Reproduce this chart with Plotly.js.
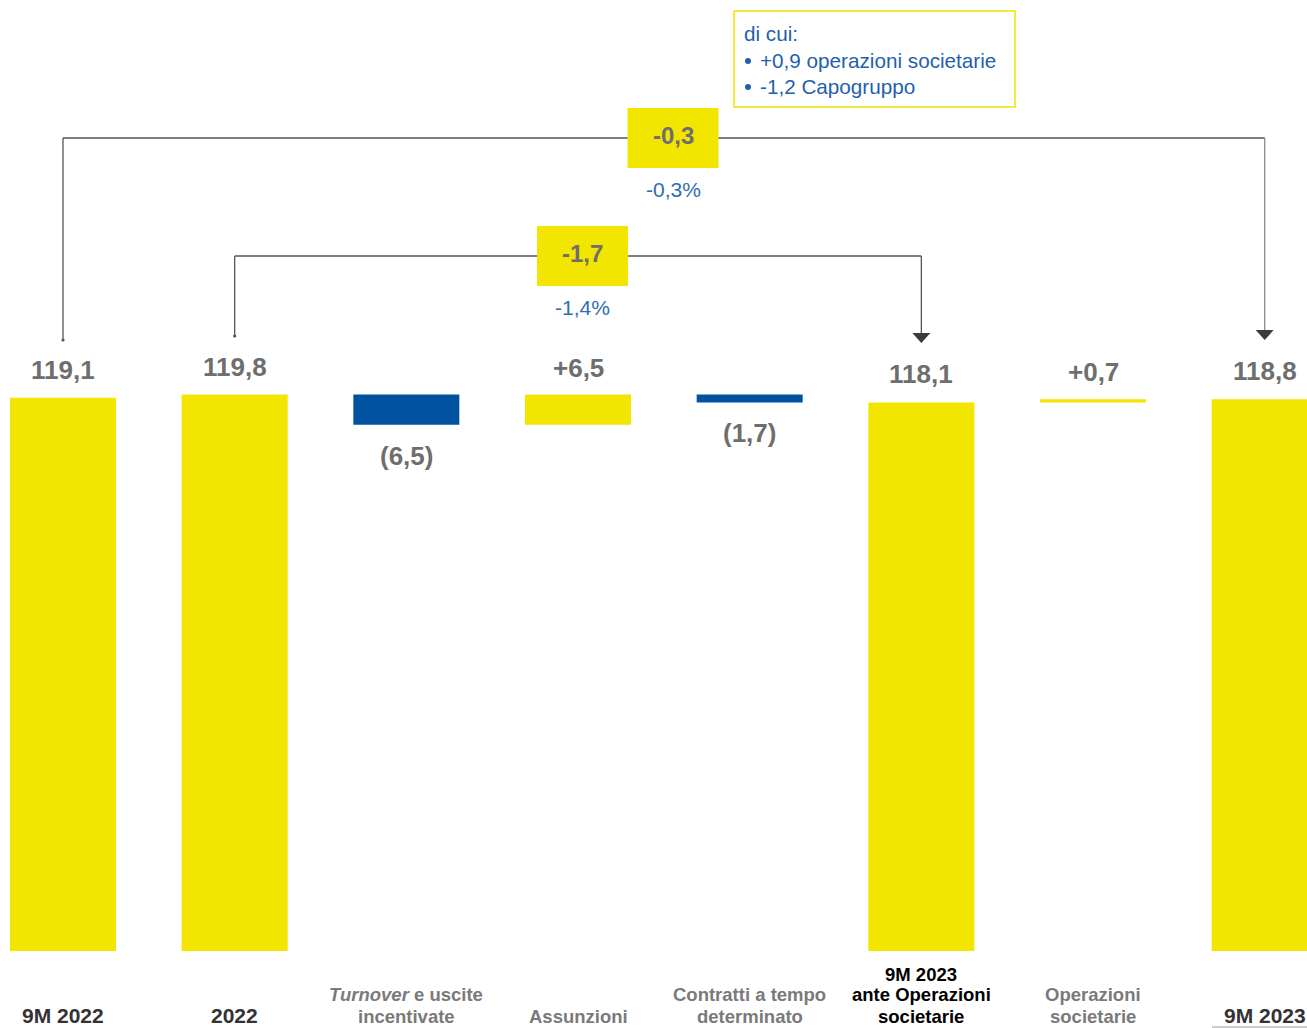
<!DOCTYPE html>
<html>
<head>
<meta charset="utf-8">
<script src="https://cdn.plot.ly/plotly-3.0.1.min.js"></script>
<style>
  html, body { margin: 0; padding: 0; background: #ffffff; }
  #chart { width: 1307px; height: 1028px; }
</style>
</head>
<body>
<div id="chart"></div>
<script>
// ---------------- DATA ----------------
const categories = [
  '9M 2022',
  '2022',
  '<i>Turnover</i> e uscite<br>incentivate',
  'Assunzioni',
  'Contratti a tempo<br>determinato',
  '9M 2023<br>ante Operazioni<br>societarie',
  'Operazioni<br>societarie',
  '9M 2023'
];
const measures = ['absolute', 'absolute', 'relative', 'relative', 'relative', 'total', 'relative', 'total'];
const values = [119.1, 119.8, -6.5, 6.5, -1.7, null, 0.7, null];

// comparison brackets (from bar index -> to bar index)
const compareFrom = [0, 1];
const compareTo = [7, 5];

// breakdown note
const breakdownTitle = 'di cui:';
const breakdownValues = [0.9, -1.2];
const breakdownLabels = ['operazioni societarie', 'Capogruppo'];

// ---------------- STYLE ----------------
const YELLOW = '#F2E500';
const BLUE = '#0052A0';
const GREY_TXT = '#6e6e6e';
const LINE = '#555555';
const PCT_BLUE = '#2f6db5';
const NOTE_BLUE = '#1f5fae';
const FONT = 'Liberation Sans, Arial, Helvetica, sans-serif';

const W = 1307, H = 1028;
const MB = 77;                 // bottom margin
const PH = H - MB;             // plot height in px
const PX_PER_UNIT = 4.645;     // vertical scale
const CAT_STEP = 171.67;       // px between category centres
const FIRST_CENTER = 63;       // px of first category centre
const xr0 = -FIRST_CENTER / CAT_STEP;
const xr1 = xr0 + W / CAT_STEP;

const py = p => (PH - p) / PH;             // pixel y -> paper y
const px = p => p / W;                     // pixel x -> paper x
const fmt = v => Math.abs(v).toFixed(1).replace('.', ',');
const fmtSigned = v => (v > 0 ? '+' : '-') + fmt(v);

// ---------------- WATERFALL COMPUTATION ----------------
const xs = [], ys = [], bases = [], colors = [], tops = [], bottoms = [], totals = [];
let running = 0;
measures.forEach((m, i) => {
  xs.push(i);
  if (m === 'absolute') {
    bases.push(0); ys.push(values[i]); running = values[i];
    colors.push(YELLOW);
  } else if (m === 'total') {
    bases.push(0); ys.push(running);
    colors.push(YELLOW);
  } else {
    bases.push(running); ys.push(values[i]);
    colors.push(values[i] < 0 ? BLUE : YELLOW);
    running += values[i];
  }
  totals.push(running);
  tops.push(Math.max(bases[i], bases[i] + ys[i]));
  bottoms.push(Math.min(bases[i], bases[i] + ys[i]));
});

const trace = {
  type: 'bar',
  x: xs,
  y: ys,
  base: bases,
  width: 106 / CAT_STEP,
  marker: { color: colors, line: { width: 0 } },
  hoverinfo: 'skip',
  showlegend: false
};

const annotations = [];
const shapes = [];

// value labels
measures.forEach((m, i) => {
  let text, y, shift;
  if (m === 'relative') {
    if (values[i] < 0) { text = '(' + fmt(values[i]) + ')'; y = bottoms[i]; shift = -31; }
    else { text = '+' + fmt(values[i]); y = tops[i]; shift = 27; }
  } else {
    text = fmt(ys[i]); y = tops[i]; shift = 28;
  }
  annotations.push({
    x: i, y: y, xref: 'x', yref: 'y', text: '<b>' + text + '</b>', showarrow: false,
    yanchor: 'middle', yshift: shift,
    font: { family: FONT, size: 26, color: GREY_TXT }
  });
});

// category labels (one annotation per line, bottom aligned)
const catColor = i => (i === 5 ? '#000000' : (measures[i] === 'relative' ? '#7a7a7a' : '#333333'));
categories.forEach((c, i) => {
  const lines = c.split('<br>');
  const n = lines.length;
  const big = (n === 1 && measures[i] !== 'relative');
  lines.forEach((ln, j) => {
    const cy = big ? 1015.5 : 1016 - 21 * (n - 1 - j);
    annotations.push({
      x: i, y: py(cy), xref: 'x', yref: 'paper', text: '<b>' + ln + '</b>',
      showarrow: false, yanchor: 'middle', align: 'center',
      font: { family: FONT, size: big ? 21 : 18.5, color: catColor(i) }
    });
  });
});
// underline under final label
shapes.push({ type: 'line', xref: 'paper', yref: 'paper', x0: px(1212), x1: 1, y0: py(1027), y1: py(1027),
  line: { color: '#9a9a9a', width: 1 } });

// comparison brackets
const levelPx = [138, 256];
const leftEndPx = [340, 336];
const tipPx = [340, 343];
const boxCenterPx = [673, 582.5];
const pctPx = [190, 307];
compareFrom.forEach((f, k) => {
  const t = compareTo[k];
  const yL = py(levelPx[k]);
  // left vertical
  shapes.push({ type: 'line', xref: 'x', yref: 'paper', x0: f, x1: f, y0: py(leftEndPx[k]), y1: yL,
    line: { color: LINE, width: 1.3 } });
  // left dot
  const dx = 1.6 / CAT_STEP;
  shapes.push({ type: 'circle', xref: 'x', yref: 'paper', x0: f - dx, x1: f + dx,
    y0: py(leftEndPx[k] + 1.6), y1: py(leftEndPx[k] - 1.6), fillcolor: LINE, line: { width: 0 } });
  // horizontal
  shapes.push({ type: 'line', xref: 'x', yref: 'paper', x0: f, x1: t, y0: yL, y1: yL,
    line: { color: LINE, width: 1.3 } });
  // right vertical
  shapes.push({ type: 'line', xref: 'x', yref: 'paper', x0: t, x1: t, y0: yL, y1: py(tipPx[k] - 9),
    line: { color: k === 0 ? '#8a8a8a' : LINE, width: 1.3 } });
  // arrow head
  const hw = 9 / CAT_STEP;
  shapes.push({ type: 'path', xref: 'x', yref: 'paper',
    path: `M ${t - hw},${py(tipPx[k] - 10)} L ${t + hw},${py(tipPx[k] - 10)} L ${t},${py(tipPx[k])} Z`,
    fillcolor: '#3c3c3c', line: { width: 0 } });
  // yellow box
  const cx = boxCenterPx[k];
  shapes.push({ type: 'rect', xref: 'paper', yref: 'paper', x0: px(cx - 45.5), x1: px(cx + 45.5),
    y0: py(levelPx[k] + 30), y1: py(levelPx[k] - 30), fillcolor: YELLOW, line: { width: 0 }, layer: 'above' });
  const diff = totals[t] - totals[f];
  const pct = diff / totals[f] * 100;
  annotations.push({
    x: px(cx), y: py(levelPx[k] - 3), xref: 'paper', yref: 'paper', text: '<b>' + fmtSigned(diff) + '</b>',
    showarrow: false, yanchor: 'middle', xanchor: 'center',
    font: { family: FONT, size: 24, color: GREY_TXT }
  });
  annotations.push({
    x: px(cx), y: py(pctPx[k]), xref: 'paper', yref: 'paper', text: fmtSigned(pct) + '%',
    showarrow: false, yanchor: 'middle', xanchor: 'center',
    font: { family: FONT, size: 21, color: PCT_BLUE }
  });
});

// breakdown note box
shapes.push({ type: 'rect', xref: 'paper', yref: 'paper', x0: px(734), x1: px(1015), y0: py(107), y1: py(11),
  line: { color: YELLOW, width: 1.5 }, fillcolor: 'rgba(0,0,0,0)' });
annotations.push({
  x: px(742), y: py(33), xref: 'paper', yref: 'paper', text: breakdownTitle,
  showarrow: false, xanchor: 'left', yanchor: 'middle', align: 'left',
  font: { family: FONT, size: 20.7, color: NOTE_BLUE }
});
breakdownValues.forEach((v, i) => {
  const cy = 60 + i * 26;
  // bullet
  shapes.push({ type: 'circle', xref: 'paper', yref: 'paper', x0: px(745), x1: px(751),
    y0: py(cy + 4), y1: py(cy - 2), fillcolor: NOTE_BLUE, line: { width: 0 } });
  annotations.push({
    x: px(758), y: py(cy), xref: 'paper', yref: 'paper', text: fmtSigned(v) + ' ' + breakdownLabels[i],
    showarrow: false, xanchor: 'left', yanchor: 'middle', align: 'left',
    font: { family: FONT, size: 20.7, color: NOTE_BLUE }
  });
});

const layout = {
  width: W, height: H,
  margin: { l: 0, r: 0, t: 0, b: MB, pad: 0 },
  paper_bgcolor: '#ffffff', plot_bgcolor: '#ffffff',
  xaxis: { range: [xr0, xr1], showgrid: false, zeroline: false, showticklabels: false, showline: false, fixedrange: true },
  yaxis: { range: [0, PH / PX_PER_UNIT], showgrid: false, zeroline: false, showticklabels: false, showline: false, fixedrange: true },
  showlegend: false,
  annotations: annotations,
  shapes: shapes,
  font: { family: FONT }
};

Plotly.newPlot('chart', [trace], layout, { displayModeBar: false, staticPlot: true });
</script>
</body>
</html>
